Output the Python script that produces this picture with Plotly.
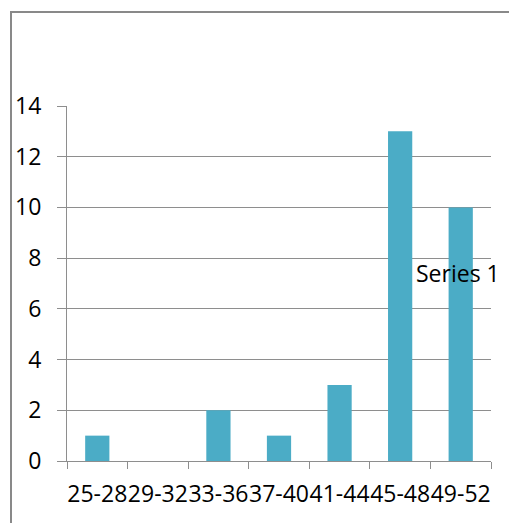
import plotly.graph_objects as go

categories = ["25-28", "29-32", "33-36", "37-40", "41-44", "45-48", "49-52"]
values = [1, 0, 2, 1, 3, 13, 10]
series_name = "Series 1"
y_ticks = [0, 2, 4, 6, 8, 10, 12, 14]

BAR = "#4BACC6"
GRID = "#8E8E8E"
FONT = "Open Sans"
FS = 23

fig = go.Figure()
fig.add_trace(go.Bar(x=categories, y=values, name=series_name,
                     marker=dict(color=BAR, line=dict(width=0)),
                     showlegend=False))

OFF = 8  # page body margin
W, H = 517 - OFF, 523 - OFF
ml, mt = 67 - OFF, 106 - OFF
mr = W - (491 - OFF)
mb = H - (461 - OFF)
pw, ph = W - ml - mr, H - mt - mb

def px_x(px):
    return (px - OFF - ml) / pw

def px_y(py):
    return (H - mb - (py - OFF)) / ph

fig.update_layout(
    width=W, height=H,
    margin=dict(l=ml, r=mr, t=mt, b=mb, pad=0),
    paper_bgcolor="white", plot_bgcolor="white",
    bargap=0.6,
    font=dict(family=FONT, size=FS, color="black"),
    xaxis=dict(type="category", showgrid=False, showline=True, linecolor=GRID, linewidth=1,
               ticks="outside", ticklen=7, tickcolor=GRID, tickwidth=1,
               tickson="boundaries", tickangle=0, automargin=False,
               tickfont=dict(family=FONT, size=FS, color="black"),
               ticklabelstandoff=12, fixedrange=True),
    yaxis=dict(range=[0, 14], tickvals=y_ticks, showgrid=True, gridcolor=GRID, gridwidth=1,
               showline=True, linecolor=GRID, linewidth=1, zeroline=False, automargin=False,
               ticks="outside", ticklen=9, tickcolor=GRID, tickwidth=1,
               tickfont=dict(family=FONT, size=FS, color="black"),
               ticklabelstandoff=11, fixedrange=True),
    annotations=[dict(text=series_name, xref="paper", yref="paper",
                      x=px_x(414), y=px_y(273),
                      xanchor="left", yanchor="middle", showarrow=False,
                      font=dict(family=FONT, size=FS, color="black"))],
    shapes=[dict(type="rect", xref="paper", yref="paper",
                 x0=px_x(11), x1=px_x(540),
                 y0=px_y(560), y1=px_y(12),
                 line=dict(color="#898989", width=2), fillcolor="rgba(0,0,0,0)", layer="below")],
)

fig.write_html("out.html")
